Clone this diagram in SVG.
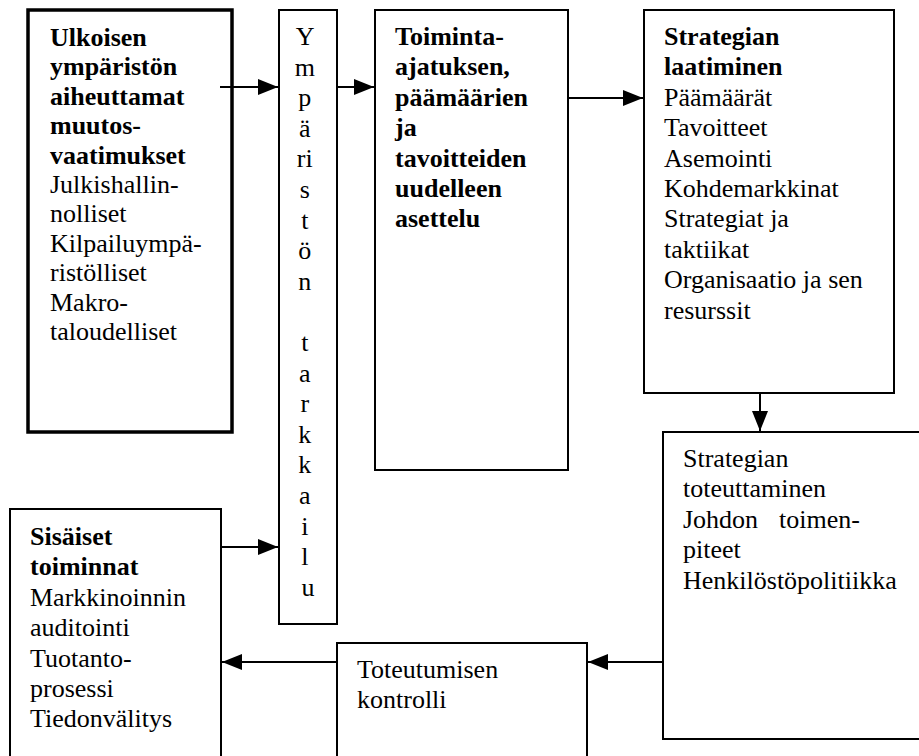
<svg xmlns="http://www.w3.org/2000/svg" width="919" height="756" viewBox="0 0 919 756">
  <style>
    .box { fill: #ffffff; stroke: #000000; stroke-width: 2; }
    .thick { stroke-width: 3.5; }
    .t { font-family: "Liberation Serif", "Times New Roman", serif; font-size: 26px; fill: #000000; }
    .b { font-weight: bold; }
    .v { text-anchor: middle; }
    .conn line { stroke: #000000; stroke-width: 2; }
  </style>
  <defs>
    <marker id="arrow" markerWidth="20" markerHeight="16" refX="20" refY="8" orient="auto" markerUnits="userSpaceOnUse">
      <path d="M0,0 L20,8 L0,16 Z" fill="#000000"/>
    </marker>
  </defs>
  <rect width="919" height="756" fill="#ffffff"/>

  <!-- external demands -->
  <g id="ulkoinen">
    <rect class="box thick" x="28" y="10" width="204" height="422"/>
    <text class="t">
      <tspan class="b" x="50" y="46">Ulkoisen</tspan>
      <tspan class="b" x="50" y="75.4">ympäristön</tspan>
      <tspan class="b" x="50" y="104.8">aiheuttamat</tspan>
      <tspan class="b" x="50" y="134.2">muutos-</tspan>
      <tspan class="b" x="50" y="163.6">vaatimukset</tspan>
      <tspan x="50" y="193">Julkishallin-</tspan>
      <tspan x="50" y="222.4">nolliset</tspan>
      <tspan x="50" y="251.8">Kilpailuympä-</tspan>
      <tspan x="50" y="281.2">ristölliset</tspan>
      <tspan x="50" y="310.6">Makro-</tspan>
      <tspan x="50" y="340">taloudelliset</tspan>
    </text>
  </g>

  <!-- environment monitoring, letters stacked vertically -->
  <g id="tarkkailu">
    <rect class="box" x="279" y="10" width="58" height="614"/>
    <text class="t v">
      <tspan x="308" y="45">Y</tspan>
      <tspan x="308" y="75.6">m</tspan>
      <tspan x="308" y="106.2">p</tspan>
      <tspan x="308" y="136.8">ä</tspan>
      <tspan x="308" y="167.4">ri</tspan>
      <tspan x="308" y="198">s</tspan>
      <tspan x="308" y="228.6">t</tspan>
      <tspan x="308" y="259.2">ö</tspan>
      <tspan x="308" y="289.8">n</tspan>
      <tspan x="308" y="351">t</tspan>
      <tspan x="308" y="381.6">a</tspan>
      <tspan x="308" y="412.2">r</tspan>
      <tspan x="308" y="442.8">k</tspan>
      <tspan x="308" y="473.4">k</tspan>
      <tspan x="308" y="504">a</tspan>
      <tspan x="308" y="534.6">i</tspan>
      <tspan x="308" y="565.2">l</tspan>
      <tspan x="308" y="595.8">u</tspan>
    </text>
  </g>

  <!-- mission and goals -->
  <g id="toiminta-ajatus">
    <rect class="box" x="375" y="10" width="193" height="460"/>
    <text class="t b">
      <tspan x="395" y="45">Toiminta-</tspan>
      <tspan x="395" y="75.4">ajatuksen,</tspan>
      <tspan x="395" y="105.8">päämäärien</tspan>
      <tspan x="395" y="136.2">ja</tspan>
      <tspan x="395" y="166.6">tavoitteiden</tspan>
      <tspan x="395" y="197">uudelleen</tspan>
      <tspan x="395" y="227.4">asettelu</tspan>
    </text>
  </g>

  <!-- strategy formulation -->
  <g id="strategian-laatiminen">
    <rect class="box" x="644" y="10" width="250" height="383"/>
    <text class="t">
      <tspan class="b" x="664" y="45">Strategian</tspan>
      <tspan class="b" x="664" y="75.4">laatiminen</tspan>
      <tspan x="664" y="105.8">Päämäärät</tspan>
      <tspan x="664" y="136.2">Tavoitteet</tspan>
      <tspan x="664" y="166.6">Asemointi</tspan>
      <tspan x="664" y="197">Kohdemarkkinat</tspan>
      <tspan x="664" y="227.4">Strategiat ja</tspan>
      <tspan x="664" y="257.8">taktiikat</tspan>
      <tspan x="664" y="288.2">Organisaatio ja sen</tspan>
      <tspan x="664" y="318.6">resurssit</tspan>
    </text>
  </g>

  <!-- strategy implementation -->
  <g id="strategian-toteuttaminen">
    <rect class="box" x="663" y="432" width="270" height="307"/>
    <text class="t">
      <tspan x="683" y="467">Strategian</tspan>
      <tspan x="683" y="497.4">toteuttaminen</tspan>
      <tspan x="683" y="527.8">Johdon</tspan>
      <tspan x="779" y="527.8">toimen-</tspan>
      <tspan x="683" y="558.2">piteet</tspan>
      <tspan x="683" y="588.6">Henkilöstöpolitiikka</tspan>
    </text>
  </g>

  <!-- control -->
  <g id="kontrolli">
    <rect class="box" x="337" y="643" width="250" height="130"/>
    <text class="t">
      <tspan x="357" y="678">Toteutumisen</tspan>
      <tspan x="357" y="708.4">kontrolli</tspan>
    </text>
  </g>

  <!-- internal operations -->
  <g id="sisaiset">
    <rect class="box" x="10" y="509" width="211" height="260"/>
    <text class="t">
      <tspan class="b" x="30" y="545">Sisäiset</tspan>
      <tspan class="b" x="30" y="575.4">toiminnat</tspan>
      <tspan x="30" y="605.8">Markkinoinnin</tspan>
      <tspan x="30" y="636.2">auditointi</tspan>
      <tspan x="30" y="666.6">Tuotanto-</tspan>
      <tspan x="30" y="697">prosessi</tspan>
      <tspan x="30" y="727.4">Tiedonvälitys</tspan>
    </text>
  </g>

  <g id="connectors" class="conn">
    <line x1="220" y1="87" x2="278" y2="87" marker-end="url(#arrow)"/>
    <line x1="337" y1="87" x2="374" y2="87" marker-end="url(#arrow)"/>
    <line x1="568" y1="98" x2="643" y2="98" marker-end="url(#arrow)"/>
    <line x1="760" y1="393" x2="760" y2="431" marker-end="url(#arrow)"/>
    <line x1="663" y1="662" x2="588" y2="662" marker-end="url(#arrow)"/>
    <line x1="337" y1="662" x2="222" y2="662" marker-end="url(#arrow)"/>
    <line x1="221" y1="547" x2="278" y2="547" marker-end="url(#arrow)"/>
  </g>
</svg>
